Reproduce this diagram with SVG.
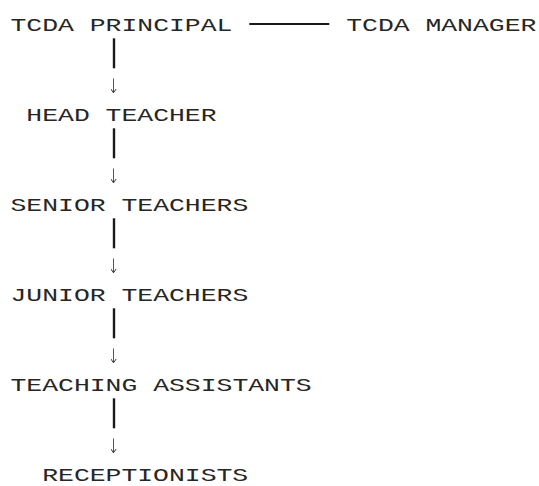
<svg xmlns="http://www.w3.org/2000/svg" width="539" height="486" viewBox="0 0 539 486">
  <style>
    .t { font-family: "Liberation Mono", "Courier New", monospace; font-size: 17.5px; fill: #262626; }
    .bar { stroke: #1a1a1a; stroke-width: 2.4; }
    .hl { stroke: #1a1a1a; stroke-width: 2; }
    .arr { stroke: #555; stroke-width: 1; fill: none; }
  </style>
  <defs>
    <marker id="ah" viewBox="0 0 6 6" refX="5" refY="3" markerWidth="6" markerHeight="6" markerUnits="userSpaceOnUse" orient="auto">
      <path d="M1.2 0.4 L5 3 L1.2 5.6" fill="none" stroke="#333" stroke-width="1"/>
    </marker>
  </defs>
  <rect width="539" height="486" fill="#ffffff"/>

  <g id="connectors">
    <line class="hl" x1="249.3" y1="24" x2="329.3" y2="24"/>
    <line class="bar" x1="114" y1="38.3" x2="114" y2="68.3"/>
    <line class="arr" x1="113.5" y1="78.5" x2="113.5" y2="92.8" marker-end="url(#ah)"/>
    <line class="bar" x1="114" y1="128.3" x2="114" y2="158.3"/>
    <line class="arr" x1="113.5" y1="168.5" x2="113.5" y2="182.8" marker-end="url(#ah)"/>
    <line class="bar" x1="114" y1="218.3" x2="114" y2="248.3"/>
    <line class="arr" x1="113.5" y1="258.5" x2="113.5" y2="272.8" marker-end="url(#ah)"/>
    <line class="bar" x1="114" y1="308.3" x2="114" y2="338.3"/>
    <line class="arr" x1="113.5" y1="348.5" x2="113.5" y2="362.8" marker-end="url(#ah)"/>
    <line class="bar" x1="114" y1="398.3" x2="114" y2="428.3"/>
    <line class="arr" x1="113.5" y1="438.5" x2="113.5" y2="452.8" marker-end="url(#ah)"/>
  </g>

  <g id="principal">
    <text class="t" x="10.5" y="30.7" textLength="221.9" lengthAdjust="spacingAndGlyphs">TCDA PRINCIPAL</text>
  </g>
  <g id="manager">
    <text class="t" x="346.2" y="30.7" textLength="190.2" lengthAdjust="spacingAndGlyphs">TCDA MANAGER</text>
  </g>
  <g id="head-teacher">
    <text class="t" x="26.35" y="120.7" textLength="190.2" lengthAdjust="spacingAndGlyphs">HEAD TEACHER</text>
  </g>
  <g id="senior-teachers">
    <text class="t" x="10.5" y="210.7" textLength="237.75" lengthAdjust="spacingAndGlyphs">SENIOR TEACHERS</text>
  </g>
  <g id="junior-teachers">
    <text class="t" x="10.5" y="300.7" textLength="237.75" lengthAdjust="spacingAndGlyphs">JUNIOR TEACHERS</text>
  </g>
  <g id="teaching-assistants">
    <text class="t" x="10.5" y="390.7" textLength="301.15" lengthAdjust="spacingAndGlyphs">TEACHING ASSISTANTS</text>
  </g>
  <g id="receptionists">
    <text class="t" x="42.2" y="480.7" textLength="206.05" lengthAdjust="spacingAndGlyphs">RECEPTIONISTS</text>
  </g>
</svg>
